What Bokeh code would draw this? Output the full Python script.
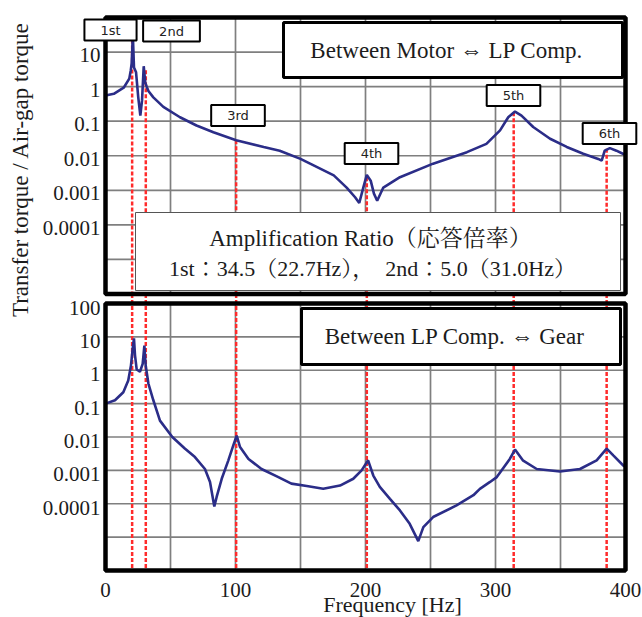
import math
from bokeh.plotting import figure
from bokeh.models import Range1d, LogScale, BoxAnnotation, Label
from bokeh.core.properties import value
from bokeh.embed import file_html
from bokeh.resources import INLINE

# ---------------- data ----------------
# Upper panel: Between Motor <-> LP Comp.
TOP_FREQ = [0, 6.4, 14, 18.3, 19.4, 20.1, 20.6, 21.0, 21.5, 21.9, 23.5, 25.2, 26.8,
            28.1, 29.4, 30.6, 31.7, 33, 36.8, 44.5, 57.3, 70, 83, 100.5, 121.7, 134,
            150, 162.8, 175.6, 185.5, 192, 195.2, 198.3, 201, 204, 206.5, 209, 213.7,
            226.5, 252, 278, 293, 303.5, 309.8, 315, 320, 329, 342, 354.8, 367.5,
            379, 381.7, 384, 388, 393, 398, 400]
TOP_VAL = [0.55, 0.62, 0.93, 1.7, 2.9, 4.6, 12, 34.5, 10, 3.6, 2.6, 0.49, 0.145,
           0.4, 3.9, 1.3, 1.0, 0.75, 0.49, 0.26, 0.13, 0.075, 0.048, 0.028, 0.018, 0.014,
           0.0081, 0.0047, 0.0027, 0.0012, 0.00063, 0.00043, 0.0012, 0.0028, 0.0019, 0.0008,
           0.0005, 0.0012, 0.0024, 0.0059, 0.0127, 0.022, 0.054, 0.13, 0.19, 0.145, 0.068,
           0.031, 0.018, 0.0114, 0.0081, 0.0072, 0.014, 0.0166, 0.014, 0.0114, 0.011]

# Lower panel: Between LP Comp. <-> Gear
BOT_FREQ = [0, 7.3, 13.7, 17.5, 19.6, 20.9, 21.9, 22.7, 24, 26.5, 28.6, 29.9, 30.9,
            33, 36.8, 41.9, 51.4, 61, 68.8, 76.5, 80.4, 83.7, 85.5, 89.4, 94.5, 98.3,
            100.9, 103.5, 110, 120, 133, 143, 154.8, 167.5, 180.4, 190.6, 197, 202,
            206, 211, 218.8, 226.5, 234, 240.6, 244.5, 252, 270, 283, 288, 295.8, 301,
            311, 315, 321, 331.7, 349.6, 365, 377.8, 385.5, 390.6, 398.3, 400]
BOT_VAL = [0.1, 0.126, 0.22, 0.49, 1.4, 4.4, 9, 2.8, 1.05, 0.9, 1.55, 5.5, 1.4,
           0.4, 0.126, 0.031, 0.01, 0.0045, 0.0025, 0.0011, 0.00045, 8.3e-5, 0.00016,
           0.00056, 0.002, 0.0056, 0.011, 0.005, 0.0022, 0.0011, 0.00063, 0.0004,
           0.00034, 0.00028, 0.00035, 0.00056, 0.001, 0.002, 0.0007, 0.00032, 0.00014,
           6.3e-5, 2.5e-5, 7.6e-6, 2e-5, 4e-5, 8.9e-5, 0.00018, 0.00028, 0.00045,
           0.00063, 0.0022, 0.0042, 0.002, 0.0011, 0.00093, 0.0011, 0.002, 0.0045,
           0.0028, 0.0014, 0.0013]

# Natural modes (red dashed lines)
MODE_NAMES = ["1st", "2nd", "3rd", "4th", "5th", "6th"]
MODE_FREQ = [20.5, 31.0, 100.5, 201.0, 314.0, 385.5]
MODE_TOP = [34.5, 3.0, 0.028, 0.0024, 0.18, 0.016]

X_TICKS = [0, 100, 200, 300, 400]
X_LABELS = ["0", "100", "200", "300", "400"]
X_GRID = [50, 100, 150, 200, 250, 300, 350]
TOP_Y_TICKS = [1e-4, 1e-3, 1e-2, 1e-1, 1, 10]
TOP_Y_LABELS = ["0.0001", "0.001", "0.01", "0.1", "1", "10"]
BOT_Y_TICKS = [1e-4, 1e-3, 1e-2, 1e-1, 1, 10, 100]
BOT_Y_LABELS = ["0.0001", "0.001", "0.01", "0.1", "1", "10", "100"]
Y_GRID = [1e-5, 1e-4, 1e-3, 1e-2, 1e-1, 1, 10]
F_MIN, F_MAX = 0, 400
PANEL_MIN, PANEL_MAX = 1e-6, 100

TITLE_TOP = "Between Motor  \u21d4  LP Comp."
TITLE_BOT = "Between LP Comp.  \u21d4  Gear"
AMP_LINE1 = "Amplification Ratio（応答倍率）"
AMP_LINE2 = "1st：34.5（22.7Hz），　2nd：5.0（31.0Hz）"
Y_TITLE = "Transfer torque / Air-gap torque"
X_TITLE = "Frequency [Hz]"

# ---------------- layout (pixels on the canvas) ----------------
CW, CH = 642, 617
PX_L, PX_R = 105, 625            # x of 0 Hz and 400 Hz
TOP_Y0, TOP_Y1 = 17, 293.5       # upper panel top / bottom
BOT_Y0, BOT_Y1 = 303, 570        # lower panel top / bottom
NDEC = math.log10(PANEL_MAX / PANEL_MIN)

ppx = (PX_R - PX_L) / (F_MAX - F_MIN)
x_rng = Range1d(F_MIN - PX_L / ppx, F_MAX + (CW - PX_R) / ppx)
dtop = (TOP_Y1 - TOP_Y0) / NDEC
top_rng = Range1d(PANEL_MIN / 10 ** ((CH - TOP_Y1) / dtop), PANEL_MAX * 10 ** (TOP_Y0 / dtop))
dbot = (BOT_Y1 - BOT_Y0) / NDEC
bot_rng = Range1d(PANEL_MIN / 10 ** ((CH - BOT_Y1) / dbot), PANEL_MAX * 10 ** (BOT_Y0 / dbot))
gap_top = PANEL_MAX * 10 ** ((BOT_Y0 - TOP_Y1) / dbot)   # upper edge of the gap, lower scale

SERIF = "Liberation Serif, DejaVu Serif, Noto Serif CJK JP, Noto Sans CJK JP"
INK = "#1c1c1c"
CURVE = "#2b2d88"
RED = "#ff2b2b"
GRID = "#7f7f7f"

p = figure(width=CW, height=CH, x_range=x_rng, y_range=bot_rng, y_axis_type="log",
           x_axis_location=None, y_axis_location=None,
           output_backend="svg", toolbar_location=None, min_border=0)
p.min_border_left = p.min_border_right = p.min_border_top = p.min_border_bottom = 0
p.outline_line_color = None
p.xgrid.visible = False
p.ygrid.visible = False
p.extra_y_ranges = {"top": top_rng}
p.extra_y_scales = {"top": LogScale()}

n_x, n_y = len(X_GRID), len(Y_GRID)
for rn in ("top", "default"):
    # grid lines inside each panel
    p.segment(x0=X_GRID, y0=[PANEL_MIN] * n_x, x1=X_GRID, y1=[PANEL_MAX] * n_x,
              y_range_name=rn, line_color=GRID, line_width=1.7)
    p.segment(x0=[F_MIN] * n_y, y0=Y_GRID, x1=[F_MAX] * n_y, y1=Y_GRID,
              y_range_name=rn, line_color=GRID, line_width=1.7)

# red dashed mode lines (upper panel from the resonance, through gap and lower panel)
n_m = len(MODE_FREQ)
p.segment(x0=MODE_FREQ, y0=MODE_TOP, x1=MODE_FREQ, y1=[PANEL_MIN] * n_m,
          y_range_name="top", line_color=RED, line_width=2.5, line_dash="4 2")
p.segment(x0=MODE_FREQ, y0=[gap_top] * n_m, x1=MODE_FREQ, y1=[PANEL_MIN] * n_m,
          line_color=RED, line_width=2.5, line_dash="4 2")

# curves
p.line(TOP_FREQ, TOP_VAL, y_range_name="top", line_color=CURVE, line_width=2.6)
p.line(BOT_FREQ, BOT_VAL, line_color=CURVE, line_width=2.6)

# tick labels
p.text(x=[F_MIN] * len(TOP_Y_TICKS), y=TOP_Y_TICKS, text=TOP_Y_LABELS, y_range_name="top",
       x_offset=-5, y_offset=3, text_align="right", text_baseline="middle",
       text_font=value("Liberation Serif"), text_font_size="21px", text_color=INK)
p.text(x=[F_MIN] * len(BOT_Y_TICKS), y=BOT_Y_TICKS, text=BOT_Y_LABELS,
       x_offset=-5, y_offset=4, text_align="right", text_baseline="middle",
       text_font=value("Liberation Serif"), text_font_size="21px", text_color=INK)
p.text(x=X_TICKS, y=[PANEL_MIN] * len(X_TICKS), text=X_LABELS,
       y_offset=19, text_align="center", text_baseline="middle",
       text_font=value("Liberation Serif"), text_font_size="21px", text_color=INK)

# panel borders
for rn in ("top", "default"):
    p.add_layout(BoxAnnotation(left=F_MIN, right=F_MAX, bottom=PANEL_MIN, top=PANEL_MAX,
                               y_range_name=rn, fill_color=None, fill_alpha=0,
                               line_color="black", line_alpha=1, line_width=4.5))

# text boxes (screen units: pixels from bottom-left of canvas)
def box(l, r, t, b, lw, lc):
    p.add_layout(BoxAnnotation(left=l, right=r, top=CH - t, bottom=CH - b,
                               left_units="screen", right_units="screen",
                               top_units="screen", bottom_units="screen",
                               fill_color="white", fill_alpha=1,
                               line_color=lc, line_alpha=1, line_width=lw))

def text(x, y, s, size, font=SERIF, angle=0.0, color=INK):
    p.add_layout(Label(x=x, y=CH - y, x_units="screen", y_units="screen", text=s,
                       text_font=font, text_font_size=size,
                       text_color=color, text_align="center",
                       text_baseline="middle", angle=angle))

box(283, 622, 22, 77, 3, "black")
text(452, 50, TITLE_TOP, "23px")
box(301, 620, 308, 364, 3, "black")
text(460, 336, TITLE_BOT, "23px")
box(135, 620, 212, 290, 1, "#555555")
text(370, 238, AMP_LINE1, "23px")
text(372, 268, AMP_LINE2, "22px")

text(20, 169, Y_TITLE, "23px", angle=math.pi / 2)
text(392, 604, X_TITLE, "22px")

MODE_LABEL_POS = [(110, 29.5), (171, 30.5), (237.5, 115), (371, 153), (513, 95), (609, 133)]
for name, (lx, ly) in zip(MODE_NAMES, MODE_LABEL_POS):
    p.add_layout(Label(x=lx, y=CH - ly, x_units="screen", y_units="screen", text=name,
                       text_font="DejaVu Sans", text_font_size="13px",
                       text_color="#222222", text_align="center",
                       text_baseline="middle", background_fill_color="white",
                       border_line_color="black", border_line_width=2,
                       padding=(16, 3)))

open("out.html", "w").write(file_html(p, INLINE))
